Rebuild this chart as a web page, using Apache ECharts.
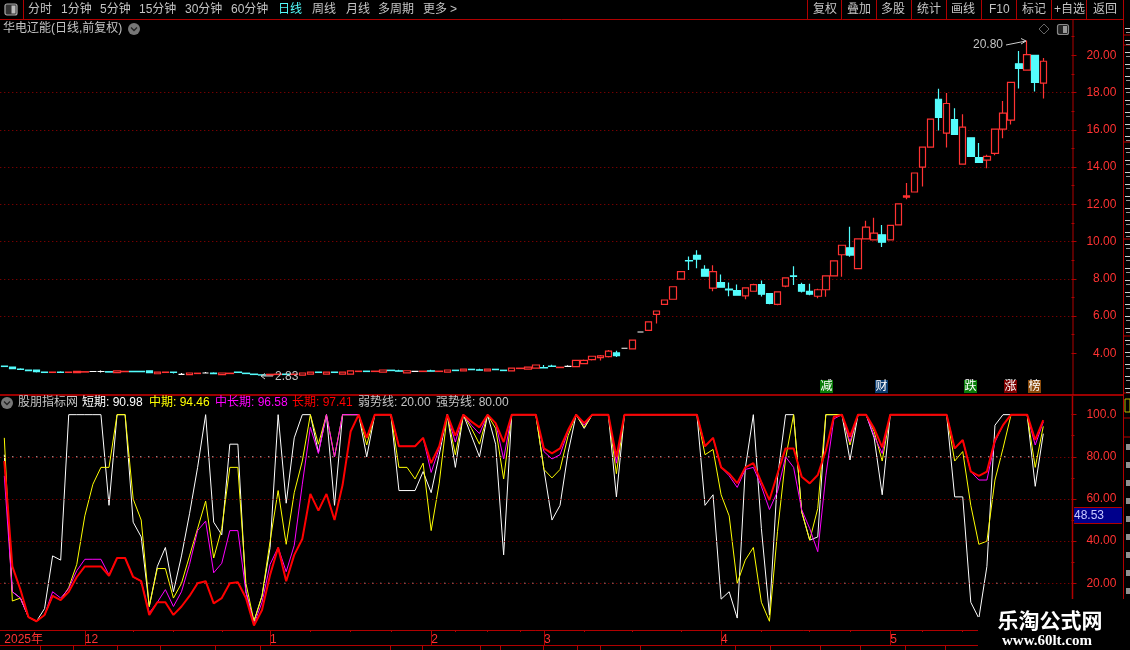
<!DOCTYPE html>
<html><head><meta charset="utf-8">
<script src="https://cdn.jsdelivr.net/npm/echarts@6/dist/echarts.min.js"></script>
<style>html,body{margin:0;padding:0;background:#000;overflow:hidden}#c{width:1130px;height:650px}</style>
</head><body><div id="c"></div>
<script>
var monthLabels = {0:'2025年',10:'12',33:'1',53:'2',67:'3',89:'4',110:'5'};
var weekTicks = [16,21,27,38,43,48,56,60,64,72,78,84,94,100,105,114,119];
var priceTicks = [4,6,8,10,12,14,16,18,20];
var priceMinorTicks = [5,7,9,11,13,15,17,19,21];
var indicatorTicks = [20,40,60,80,100];
var indicatorMinorTicks = [10,30,50,70,90];
var candles = [
[3.31,3.29,3.29,3.31],[3.26,3.17,3.17,3.26],[3.15,3.13,3.13,3.19],[3.09,3.07,3.07,3.13],[3.10,3.01,2.96,3.10],
[2.99,2.97,2.97,2.99],[2.97,2.99,2.97,2.99],[2.99,2.97,2.94,3.03],[2.97,2.99,2.97,2.99],[2.96,3.03,2.96,3.03],
[2.99,3.01,2.99,3.01],[3.02,3.02,3.02,3.02],[3.02,3.02,2.97,3.07],[3.01,2.99,2.99,3.01],[2.96,3.05,2.96,3.05],
[3.01,3.03,3.01,3.03],[3.03,3.01,3.01,3.03],[3.03,3.01,3.01,3.03],[3.05,2.96,2.96,3.05],[2.90,2.99,2.90,2.99],
[2.97,2.99,2.97,2.99],[2.99,2.97,2.91,2.99],[2.87,2.87,2.87,2.94],[2.85,2.94,2.85,2.94],[2.91,2.93,2.91,2.93],
[2.94,2.94,2.94,3.00],[2.93,2.91,2.88,2.98],[2.85,2.94,2.85,2.94],[2.91,2.93,2.91,2.93],[2.99,2.97,2.97,2.99],
[2.93,2.91,2.91,2.93],[2.88,2.86,2.86,2.88],[2.84,2.83,2.83,2.84],[2.83,2.87,2.83,2.87],[2.86,2.88,2.86,2.88],
[2.88,2.86,2.86,2.88],[2.86,2.88,2.86,2.88],[2.83,2.94,2.83,2.94],[2.88,2.99,2.88,2.99],[2.99,2.97,2.97,2.99],
[2.88,2.99,2.88,2.99],[2.99,2.97,2.97,2.99],[2.88,2.99,2.88,2.99],[2.88,3.05,2.88,3.05],[3.02,3.04,3.02,3.04],
[3.04,3.02,3.02,3.04],[3.02,3.04,3.02,3.04],[2.99,3.10,2.99,3.10],[3.09,3.07,3.07,3.09],[3.06,3.04,3.04,3.12],
[2.95,3.06,2.95,3.06],[3.03,3.03,3.03,3.03],[3.02,3.04,3.02,3.04],[3.06,3.04,3.04,3.12],[3.02,3.04,3.02,3.04],
[2.99,3.10,2.99,3.10],[3.09,3.07,3.07,3.09],[3.05,3.15,3.05,3.15],[3.14,3.12,3.12,3.14],[3.11,3.09,3.09,3.17],
[3.05,3.15,3.05,3.15],[3.14,3.12,3.12,3.14],[3.09,3.07,3.07,3.09],[3.05,3.20,3.05,3.20],[3.18,3.20,3.18,3.20],
[3.15,3.26,3.15,3.26],[3.20,3.37,3.20,3.37],[3.23,3.21,3.21,3.37],[3.31,3.29,3.29,3.38],[3.23,3.25,3.23,3.25],
[3.30,3.30,3.30,3.36],[3.28,3.62,3.28,3.62],[3.44,3.62,3.42,3.67],[3.66,3.84,3.61,3.84],[3.77,3.86,3.61,3.91],
[3.82,4.11,3.77,4.18],[4.02,3.87,3.80,4.13],[4.27,4.27,4.27,4.27],[4.23,4.70,4.23,4.70],[5.14,5.14,5.14,5.14],
[5.23,5.68,5.23,5.68],[6.09,6.27,5.60,6.27],[6.63,6.86,6.63,6.86],[6.90,7.57,6.90,7.57],[7.98,8.38,7.98,8.38],
[8.98,8.96,8.47,9.19],[9.26,9.05,8.56,9.53],[8.50,8.14,8.14,8.72],[7.50,8.38,7.33,8.72],[7.80,7.55,7.55,8.23],
[7.44,7.40,7.06,7.80],[7.37,7.12,7.12,7.69],[7.08,7.51,6.90,7.51],[7.33,7.68,7.33,7.73],[7.69,7.17,7.05,7.91],
[7.21,6.68,6.63,7.21],[6.63,7.30,6.58,7.30],[7.60,8.05,7.55,8.05],[8.15,8.13,7.66,8.67],[7.69,7.33,7.26,7.78],
[7.32,7.17,7.12,7.73],[7.06,7.41,6.95,7.47],[7.41,8.16,7.04,8.16],[8.16,8.96,8.16,8.96],[9.29,9.80,8.11,9.80],
[9.66,9.27,9.18,10.79],[8.54,10.14,8.54,10.14],[10.14,10.77,10.14,11.11],[10.09,10.45,10.09,11.27],[10.36,9.96,9.70,10.89],
[10.09,10.87,10.09,10.87],[10.89,12.02,10.89,12.02],[12.38,12.45,12.27,13.14],[12.66,13.68,12.66,13.68],[14.00,15.07,12.96,15.07],
[15.07,16.57,15.07,16.57],[17.64,16.66,15.96,18.20],[15.82,17.41,15.05,17.98],[16.54,15.75,15.75,17.16],[14.16,16.14,14.16,16.84],
[15.57,14.57,14.57,15.57],[14.50,14.25,14.25,15.29],[14.37,14.57,13.93,14.66],[14.73,16.04,14.63,16.04],[16.04,16.89,15.54,17.55],
[16.52,18.55,16.29,18.55],[19.54,19.29,18.21,20.23],[19.20,20.04,19.20,20.80],[20.00,18.54,18.05,20.00],[18.50,19.68,17.68,19.86]
];
var shortTerm = [81,16,13,4,2,8,33,31,100,100,100,100,100,57,100,100,49,42,9,28,37,16,33,53,75,100,49,43,86,86,16,2,14,37,100,58,89,100,100,82,100,57,100,100,100,80,100,
100,100,64,64,64,73,63,81,100,75,100,90,80,100,86,33.5,100,100,100,100,74,50,57,82,100,93.5,100,100,100,61,100,100,100,100,100,100,100,100,100,100,
57,62,12.5,16,3.5,74.5,100,46,5,70,100,100,54,40.5,42,100,100,100,78.5,100,100,89,62,100,100,100,100,100,100,100,100,61,61,11,3.4,28,95,100,100,100,100,66,90.98];
var midTerm = [89,11.6,13,4,2,5,14,12,18,29,52,67,75,75,100,100,60,50,9,27,27,13,20,33,46,59,32,46,75,75,20,2,14,40,64,38.5,63,78,100,86,100,80,100,100,100,85.6,100,
100,100,75,75,69.5,77,45,67.5,100,81,100,93.5,86,100,93.5,69.5,100,100,100,100,74,70,74,90,100,94,100,100,100,72,100,100,100,100,100,100,100,100,100,100,
81,83.5,62,52,20,31,37,11,2,44.5,79,100,54,40.5,55.5,100,100,100,85.6,100,100,92,78,100,100,100,100,100,100,100,100,78,82.5,57,38.5,40,69,84,100,100,100,75,94.46];
var midLongTerm = [71,16,13,4,2,5,16,13,17.5,26,31.4,31.4,31.4,24,32,32,23,21,6,11,17,9,16,29,45,49.5,25,29.5,45,45,16,0.5,11,29,37,25.5,38,67,94,81.6,100,80,100,100,100,89,100,
100,100,85,85,85,89,72.6,84,100,87,100,95,91,100,96,79,100,100,100,100,82.5,79,81,92,100,95,100,100,100,77,100,100,100,100,100,100,100,100,100,100,
85,89,75,71,65.5,74,75,66,55,63.5,80,75,55,46,35,71,98,100,87,100,100,90,81.6,100,100,100,100,100,100,100,100,84,88,73,69,69,87,95,100,100,100,85.6,96.58];
var longTerm = [78,28,17,4,2,5,14,12,16,23,28,28,28,23.6,32,32,23,21,5,11,11,5,9,14,20,21,10.5,13,20,20.5,13,0,7.3,24,37,21,33.5,41,62.4,54.5,62.4,50,66.6,92,100,89,100,
100,100,85,85,85,89,77,85,100,90,100,96.7,94,100,96,87,100,100,100,100,84,81.6,84,92.7,100,96,100,100,100,80,100,100,100,100,100,100,100,100,100,100,
85,89,75,72,67.5,75,77,68,59.5,72,84,84,70.6,67.4,71.4,83,99,100,89.6,100,100,93.5,84.5,100,100,100,100,100,100,100,100,84,88,73,71,73,88,95,100,100,100,88,97.41];
var weakLine = shortTerm.map(function(){return 20;});
var strongLine = shortTerm.map(function(){return 80;});
var categories = [];
for (var n=0;n<133;n++) categories.push(monthLabels[n]||'');

var RED='#ff3232', DARK='#b00000', GRAY='#c4c4c4', CYAN='#54fcfc';
var FONT='"Liberation Sans","Noto Sans CJK SC",sans-serif';
var g=[];
function line(x1,y1,x2,y2,c,w){g.push({type:'line',z:50,silent:true,shape:{x1:x1,y1:y1,x2:x2,y2:y2},style:{stroke:c||DARK,lineWidth:w||1}});}
function rect(x,y,w,h,f,z,s,r){g.push({type:'rect',z:z||50,silent:true,shape:{x:x,y:y,width:w,height:h,r:r||0},style:{fill:f,stroke:s||null}});}
function text(t,x,y,c,o){o=o||{};g.push({type:'text',z:o.z||60,silent:true,x:x,y:y,style:{text:t,fill:c||GRAY,font:(o.w||'normal')+' '+(o.s||12)+'px '+(o.f||FONT),textAlign:o.a||'left',textVerticalAlign:'middle'}});}
function circle(x,y,label){g.push({type:'circle',z:60,silent:true,shape:{cx:x,cy:y,r:6},style:{fill:'#777'}});
  g.push({type:'polyline',z:61,silent:true,shape:{points:[[x-3,y-1.5],[x,y+1.5],[x+3,y-1.5]]},style:{stroke:'#222',fill:null,lineWidth:1.3}});}

/* frame */
line(0,19.5,1123,19.5); line(23.5,0,23.5,19.5); line(1123.5,0,1123.5,650);
line(1073,20,1073,395); line(1072.5,396,1072.5,600,DARK,1.5);
line(0,395,1123,395,'#d00000',1.5); line(0,645.5,978,645.5);
line(1123,35,1130,35); line(1123,45,1130,45); line(1123,142,1130,142); line(1123,239,1130,239); line(1123,336,1130,336); line(1123,393,1130,393);
line(1123,418,1130,418); line(1123,437,1130,437);
[40,73,117,160,215,260,390,422,480,500,543,577,600,640,735,770,820,860,905,945].forEach(function(x){line(x+.5,646,x+.5,650);});
[807,841,876,911,946,981,1016,1051,1086].forEach(function(x){line(x+.5,0,x+.5,19.5);});
/* clipped side panel rows */
for (var y=28;y<392;y+=12){ rect(1125,y,5,1,'#cfcfcf'); rect(1126,y+4,4,1,'#9a9a9a'); }
for (var y2=444;y2<600;y2+=18){ rect(1126,y2,4,6,'#8f8f8f'); }
rect(1125,399,5,13,'#000',50,'#b8b800');

/* top bar */
g.push({type:'rect',z:60,silent:true,shape:{x:5,y:4,width:12,height:11,r:2},style:{fill:'#333',stroke:'#aaa',lineWidth:1.2}});
rect(11.5,5.5,4,8,'#bbb',61);
[['分时',28],['1分钟',61],['5分钟',100],['15分钟',139],['30分钟',185],['60分钟',231],['周线',312],['月线',346],['多周期',378],['更多',423],['>',450]].forEach(function(a){text(a[0],a[1],9.5);});
text('日线',278,9.5,CYAN);
[['复权',813],['叠加',847],['多股',881],['统计',917],['画线',951],['F10',989],['标记',1022],['+自选',1054],['返回',1093]].forEach(function(a){text(a[0],a[1],9.5);});
text('华电辽能(日线,前复权)',3,29,GRAY); circle(134,29);
g.push({type:'polygon',z:60,silent:true,shape:{points:[[1044,24],[1049,29],[1044,34],[1039,29]]},style:{fill:null,stroke:'#666'}});
g.push({type:'rect',z:60,silent:true,shape:{x:1057.5,y:24.5,width:11,height:10,r:2},style:{fill:'#222',stroke:'#888',lineWidth:1.2}});
rect(1063,26,4,7,'#999',61);

/* extremes */
text('20.80',973,45,GRAY);
g.push({type:'polyline',z:60,silent:true,shape:{points:[[1006,45],[1026,41]]},style:{stroke:'#ccc',fill:null,lineWidth:1}});
g.push({type:'polyline',z:60,silent:true,shape:{points:[[1021,38.5],[1026,41],[1021,44]]},style:{stroke:'#ccc',fill:null,lineWidth:1}});
text('2.83',275,377,GRAY);
g.push({type:'polyline',z:60,silent:true,shape:{points:[[273,376],[261,376]]},style:{stroke:'#ccc',fill:null,lineWidth:1}});
g.push({type:'polyline',z:60,silent:true,shape:{points:[[265,373.5],[261,376],[265,379]]},style:{stroke:'#ccc',fill:null,lineWidth:1}});

/* event tags */
[['减',820,'#0a7d0a'],['财',875,'#0b3c70'],['跌',964,'#0a7d0a'],['涨',1004,'#7d0000'],['榜',1028,'#8a4a0a']].forEach(function(a){
  rect(a[1],380,13,13,a[2],55); text(a[0],a[1]+.5,386.5,'#fff');});

/* legend of indicator */
circle(7,403); 
[['股朋指标网',18,GRAY],['短期: 90.98',82,'#fff'],['中期: 94.46',149,'#ffff00'],['中长期: 96.58',215,'#ff00ff'],['长期: 97.41',292,'#ff0000'],['弱势线: 20.00',358,GRAY],['强势线: 80.00',436,GRAY]].forEach(function(a){text(a[0],a[1],403,a[2]);});

/* current value */
rect(1074,508,48,15,'#00008b',55); line(1074,507.5,1122,507.5); line(1074,523.5,1122,523.5);
text('48.53',1074,516,'#c8c8ff');

/* watermark */
rect(978,617,152,33,'#000',80); rect(983,599,147,51,'#000',80);
text('乐淘公式网',1050,620,'#fff',{z:90,s:21,w:'bold',a:'center',f:'"Noto Sans CJK SC",sans-serif'});
text('www.60lt.com',1047,641,'#fff',{z:90,s:15,w:'bold',a:'center',f:'"Liberation Serif",serif'});

function fmtP(v){return v.toFixed(2);}
function fmtI(v){return v===100?'100.0':v.toFixed(2);}
var dotted={color:'#a00000',type:[1,3],width:1};
function guide(v){return {yAxis:v};}
var L=0.27, W=1071.2;
var option={
  backgroundColor:'#000',animation:false,
  grid:[{left:L,width:W,top:20,height:370.5},{left:L,width:W,top:395,height:230.47}],
  xAxis:[
    {type:'category',gridIndex:0,data:categories,boundaryGap:true,axisLine:{show:false},axisTick:{show:false},axisLabel:{show:false},splitLine:{show:false}},
    {type:'category',gridIndex:1,data:categories,boundaryGap:true,offset:4.53,position:'bottom',
      axisLine:{show:true,onZero:false,lineStyle:{color:DARK,width:1}},
      axisTick:{show:true,alignWithLabel:true,length:15,lineStyle:{color:DARK},interval:function(i){return monthLabels[i]!==undefined&&i>0;}},
      axisLabel:{show:true,color:RED,fontSize:12,fontFamily:FONT,align:'left',verticalAlign:'middle',margin:10,hideOverlap:false,interval:function(i){return monthLabels[i]!==undefined;},formatter:function(v){return v;}},splitLine:{show:false}},
    {type:'category',gridIndex:1,data:categories,boundaryGap:true,offset:4.53,position:'bottom',
      axisLine:{show:false,onZero:false},axisLabel:{show:false},splitLine:{show:false},
      axisTick:{show:true,alignWithLabel:true,length:2,lineStyle:{color:DARK},interval:function(i){return weekTicks.indexOf(i)>=0;}}}
  ],
  yAxis:[
    {type:'value',gridIndex:0,position:'right',min:2,max:21.895,interval:2,scale:true,
      axisLine:{show:false},axisTick:{show:true,length:5,customValues:priceTicks,lineStyle:{color:DARK}},
      axisLabel:{show:true,color:RED,fontSize:12,fontFamily:FONT,align:'right',margin:45,padding:[2,0,0,0],customValues:priceTicks,formatter:fmtP},
      splitLine:{show:true,showMinLine:false,showMaxLine:false,lineStyle:dotted}},
    {type:'value',gridIndex:0,position:'right',min:2,max:21.895,interval:2,
      axisLine:{show:false},axisLabel:{show:false},splitLine:{show:false},
      axisTick:{show:true,length:3,customValues:priceMinorTicks,lineStyle:{color:DARK}}},
    {type:'value',gridIndex:1,position:'right',min:0,max:109.33,interval:20,
      axisLine:{show:false},axisTick:{show:true,length:5,customValues:indicatorTicks,lineStyle:{color:DARK}},
      axisLabel:{show:true,color:RED,fontSize:12,fontFamily:FONT,align:'right',margin:45,padding:[2,0,0,0],customValues:indicatorTicks,formatter:fmtI},
      splitLine:{show:false}},
    {type:'value',gridIndex:1,position:'right',min:0,max:109.33,interval:20,
      axisLine:{show:false},axisLabel:{show:false},splitLine:{show:false},
      axisTick:{show:true,length:3,customValues:indicatorMinorTicks,lineStyle:{color:DARK}}}
  ],
  series:[
    {type:'candlestick',xAxisIndex:0,yAxisIndex:0,data:candles,barWidth:7,clip:false,
      itemStyle:{color:'#000',color0:CYAN,borderColor:RED,borderColor0:CYAN,borderColorDoji:'#fff',borderWidth:1.2}},
    {type:'line',xAxisIndex:1,yAxisIndex:2,data:[],z:1,silent:true,
      markLine:{silent:true,symbol:'none',label:{show:false},lineStyle:dotted,animation:false,data:[guide(20),guide(40),guide(60),guide(80)]}},
    {name:'弱势线',type:'line',xAxisIndex:1,yAxisIndex:2,data:weakLine,symbol:'none',silent:true,z:2,lineStyle:{color:'#fff',width:1.3,type:[1,7]}},
    {name:'强势线',type:'line',xAxisIndex:1,yAxisIndex:2,data:strongLine,symbol:'none',silent:true,z:2,lineStyle:{color:'#fff',width:1.3,type:[1,7]}},
    {name:'短期',type:'line',xAxisIndex:1,yAxisIndex:2,data:shortTerm,symbol:'none',silent:true,z:3,lineStyle:{color:'#fff',width:1}},
    {name:'中期',type:'line',xAxisIndex:1,yAxisIndex:2,data:midTerm,symbol:'none',silent:true,z:4,lineStyle:{color:'#ffff00',width:1}},
    {name:'中长期',type:'line',xAxisIndex:1,yAxisIndex:2,data:midLongTerm,symbol:'none',silent:true,z:5,lineStyle:{color:'#ff00ff',width:1}},
    {name:'长期',type:'line',xAxisIndex:1,yAxisIndex:2,data:longTerm,symbol:'none',silent:true,z:6,lineStyle:{color:'#ff0000',width:2}}
  ],
  graphic:{elements:g}
};
var chart=echarts.init(document.getElementById('c'),null,{renderer:'canvas'});
chart.setOption(option);
</script></body></html>
